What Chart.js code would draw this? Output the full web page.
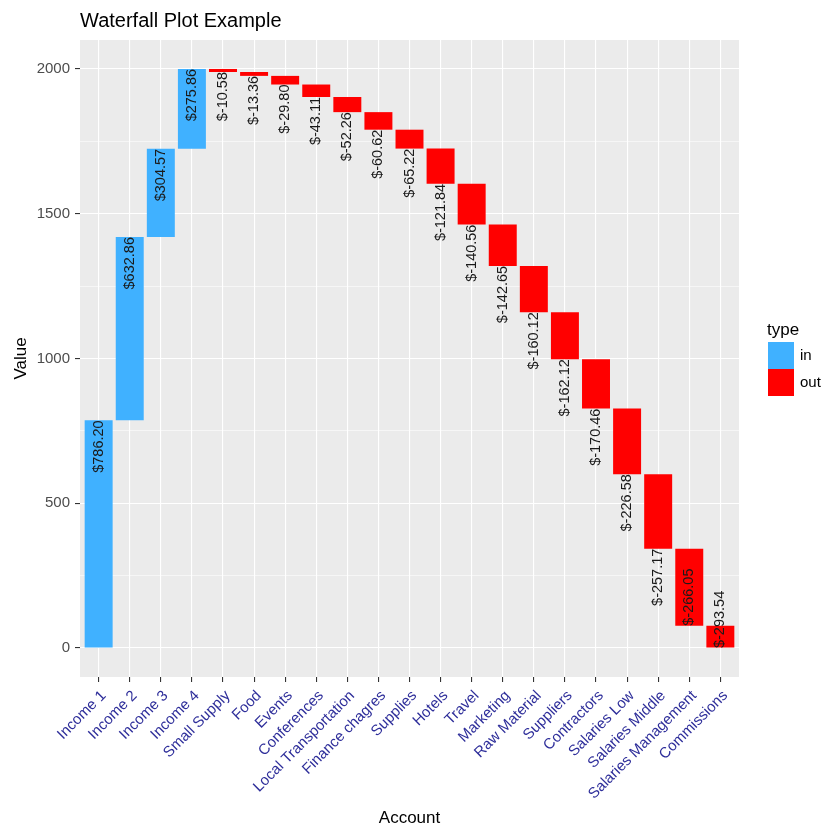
<!DOCTYPE html>
<html>
<head>
<meta charset="utf-8">
<script src="https://cdn.jsdelivr.net/npm/chart.js@4.4.1/dist/chart.umd.min.js"></script>
<style>
  html, body { margin: 0; padding: 0; background: #ffffff; }
  #wrap { width: 822px; height: 829px; }
</style>
</head>
<body>
<div id="wrap"><canvas id="chart" width="822" height="829"></canvas></div>
<script>
// Accounts in plotting order
const accounts = [
  'Income 1', 'Income 2', 'Income 3', 'Income 4', 'Small Supply', 'Food', 'Events',
  'Conferences', 'Local Transportation', 'Finance chagres', 'Supplies', 'Hotels', 'Travel',
  'Marketing', 'Raw Material', 'Suppliers', 'Contractors', 'Salaries Low', 'Salaries Middle',
  'Salaries Management', 'Commissions'
];

// Amount booked on each account (positive = in, negative = out)
const amounts = [
  786.20, 632.86, 304.57, 275.86, -10.58, -13.36, -29.80,
  -43.11, -52.26, -60.62, -65.22, -121.84, -140.56,
  -142.65, -160.12, -162.12, -170.46, -226.58, -257.17,
  -266.05, -293.54
];

const yTicks = [0, 250, 500, 750, 1000, 1250, 1500, 1750, 2000];
const yLabelled = [0, 500, 1000, 1500, 2000];

const typeNames = ['in', 'out'];
const typeColors = { in: '#40B1FF', out: '#FF0000' };

// Running balance: each bar floats from the previous balance to the new one (floored at 0)
const starts = [];
const ends = [];
let balance = 0;
amounts.forEach(a => {
  starts.push(balance);
  balance = Math.max(0, balance + a);
  ends.push(balance);
});
const types = amounts.map(a => (a >= 0 ? 'in' : 'out'));

const datasets = typeNames.map(t => ({
  label: t,
  backgroundColor: typeColors[t],
  borderWidth: 0,
  barPercentage: 0.9,
  categoryPercentage: 1.0,
  grouped: false,
  data: amounts.map((a, i) => i).filter(i => types[i] === t).map(i => ({ x: i, y: [starts[i], ends[i]] }))
}));

const FONT = "'Liberation Sans', Arial, sans-serif";

// Grey panel behind the grid
const panelPlugin = {
  id: 'panel',
  beforeDraw(chart) {
    const { ctx, chartArea: a } = chart;
    ctx.save();
    ctx.fillStyle = '#EBEBEB';
    ctx.fillRect(a.left, a.top, a.right - a.left, a.bottom - a.top);
    ctx.restore();
  }
};

// Dollar labels printed vertically from each bar's end
const barLabelPlugin = {
  id: 'barLabels',
  afterDatasetsDraw(chart) {
    const { ctx, scales } = chart;
    const x = scales.x, y = scales.y;
    const zeroPx = y.getPixelForValue(0);
    ctx.save();
    ctx.font = '14.5px ' + FONT;
    ctx.fillStyle = '#1A1A1A';
    ctx.textBaseline = 'middle';
    amounts.forEach((a, i) => {
      const text = '$' + a.toFixed(2);
      const w = ctx.measureText(text).width;
      const px = x.getPixelForValue(i);
      const py = y.getPixelForValue(ends[i]);
      const hangDown = py + w <= zeroPx;
      ctx.save();
      ctx.translate(px, py);
      ctx.rotate(-Math.PI / 2);
      ctx.textAlign = hangDown ? 'right' : 'left';
      ctx.fillText(text, 0, 0);
      ctx.restore();
    });
    ctx.restore();
  }
};

// Plot title and the "type" legend
const annotationPlugin = {
  id: 'annotations',
  afterDraw(chart) {
    const { ctx } = chart;
    ctx.save();
    ctx.fillStyle = '#000000';
    ctx.textBaseline = 'alphabetic';
    ctx.textAlign = 'left';
    ctx.font = '20px ' + FONT;
    ctx.fillText('Waterfall Plot Example', 80, 26.5);

    ctx.font = '17px ' + FONT;
    ctx.fillText('type', 767, 335);
    ctx.font = '15px ' + FONT;
    ctx.textBaseline = 'middle';
    typeNames.forEach((t, k) => {
      const top = 342 + k * 27;
      ctx.fillStyle = typeColors[t];
      ctx.fillRect(768, top, 26, 27);
      ctx.fillStyle = '#000000';
      ctx.fillText(t, 800, top + 14);
    });
    ctx.restore();
  }
};

new Chart(document.getElementById('chart'), {
  type: 'bar',
  data: { datasets },
  plugins: [panelPlugin, barLabelPlugin, annotationPlugin],
  options: {
    responsive: false,
    animation: false,
    devicePixelRatio: 1,
    layout: { padding: { top: 40, right: 83, left: 0, bottom: 0 } },
    plugins: {
      legend: { display: false },
      tooltip: { enabled: false },
      title: { display: false }
    },
    scales: {
      x: {
        type: 'linear',
        min: -0.6,
        max: 20.6,
        offset: false,
        afterBuildTicks(scale) {
          scale.ticks = accounts.map((_, i) => ({ value: i }));
        },
        afterFit(scale) { scale.height = 152; },
        ticks: {
          autoSkip: false,
          maxRotation: 45,
          minRotation: 45,
          padding: 5,
          labelOffset: 5,
          color: '#2E2E9A',
          font: { family: FONT, size: 15 },
          callback: v => accounts[Math.round(v)]
        },
        grid: {
          offset: false,
          color: '#FFFFFF',
          lineWidth: 1.1,
          tickColor: '#333333',
          tickLength: 5
        },
        border: { display: false },
        title: {
          display: true,
          text: 'Account',
          color: '#000000',
          font: { family: FONT, size: 17 },
          padding: { top: 0, bottom: 0 }
        }
      },
      y: {
        type: 'linear',
        min: -99.97,
        max: 2099.46,
        afterBuildTicks(scale) {
          scale.ticks = yTicks.map(v => ({ value: v }));
        },
        afterFit(scale) { scale.width = 80; },
        ticks: {
          padding: 5,
          color: '#4D4D4D',
          font: { family: FONT, size: 15 },
          callback: v => (yLabelled.includes(v) ? String(v) : '')
        },
        grid: {
          color: '#FFFFFF',
          lineWidth: ctx => (yLabelled.includes(ctx.tick.value) ? 1.1 : 0.55),
          tickColor: ctx => (yLabelled.includes(ctx.tick.value) ? '#333333' : 'rgba(0,0,0,0)'),
          tickLength: 5
        },
        border: { display: false },
        title: {
          display: true,
          text: 'Value',
          color: '#000000',
          font: { family: FONT, size: 17 },
          padding: { top: 11, bottom: 0 }
        }
      }
    }
  }
});
</script>
</body>
</html>
